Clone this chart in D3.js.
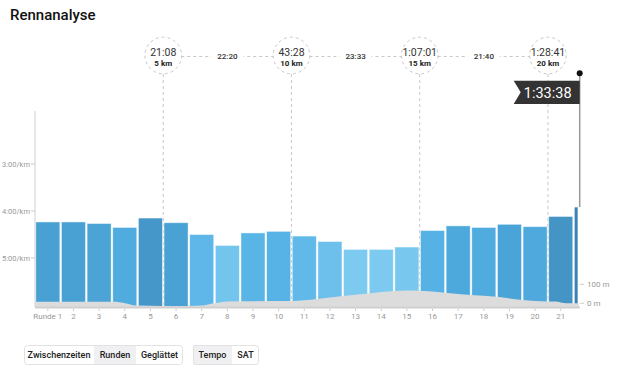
<!DOCTYPE html>
<html>
<head>
<meta charset="utf-8">
<script src="https://cdn.jsdelivr.net/npm/d3@7"></script>
<style>
  body { margin: 0; background: #fff; font-family: Roboto, sans-serif; }
  svg text { font-family: Roboto, sans-serif; }
</style>
</head>
<body>
<div id="chart"></div>
<script>
// lap data (pace in seconds per km)
var lapLabels = ["Runde 1", "2", "3", "4", "5", "6", "7", "8", "9", "10", "11", "12", "13", "14", "15", "16", "17", "18", "19", "20", "21", ""];
var lapDist = [1, 1, 1, 1, 1, 1, 1, 1, 1, 1, 1, 1, 1, 1, 1, 1, 1, 1, 1, 1, 1, 0.2];
var lapPace = [254, 254, 256, 261, 249, 255, 270, 284, 268, 266, 272, 279, 289, 289, 286, 265, 259, 261, 257, 260, 247, 235];

// elevation profile
var elevKm = [0, 1, 2, 3, 3.3, 4, 5, 6, 6.5, 7, 7.5, 8.5, 10, 11, 12, 13, 14, 14.5, 15, 16, 17, 18, 19, 20, 20.3, 20.7, 21.2];
var elevM = [8, 8, 8, 8, 6, -12, -14, -14, -12, 0, 10, 11, 12, 22, 38, 52, 65, 68, 66, 56, 44, 35, 17, 10, 10, 0, 0];

// splits
var splitKm = [5, 10, 15, 20];
var splitTime = ["21:08", "43:28", "1:07:01", "1:28:41"];
var splitLabel = ["5 km", "10 km", "15 km", "20 km"];
var segTime = ["22:20", "23:33", "21:40"];
var finishTime = "1:33:38";

var paceTicks = [180, 240, 300];
var paceTickLabels = ["3:00/km", "4:00/km", "5:00/km"];
var elevTicks = [0, 100];

var width = 626, height = 368;
var svg = d3.select("#chart").append("svg").attr("width", width).attr("height", height);

svg.append("text").attr("x", 10).attr("y", 20)
  .style("font-size", "15px").style("font-weight", "500").style("fill", "#111")
  .text("Rennanalyse");

var totalKm = d3.sum(lapDist);
var x = d3.scaleLinear().domain([0, totalKm]).range([35, 578.7]);
var y = d3.scaleLinear().domain([180, 300]).range([164, 258]);
var yE = d3.scaleLinear().domain([0, 100]).range([303.3, 284.3]);
var bottom = 307;

var color = d3.scaleLinear()
  .domain([235, 250, 258, 266, 290])
  .range(["#3a82b2", "#4699cb", "#4ca6da", "#57b3e6", "#7ecbf0"]);

// laps with start/end
var laps = [];
var acc = 0;
for (var i = 0; i < lapDist.length; i++) {
  laps.push({ label: lapLabels[i], start: acc, end: acc + lapDist[i], pace: lapPace[i] });
  acc += lapDist[i];
}

// left axis line
svg.append("line").attr("x1", 35).attr("x2", 35).attr("y1", 111).attr("y2", bottom)
  .style("stroke", "#d0d0d0").style("stroke-width", 1);

// pace ticks
var pt = svg.append("g").selectAll("g").data(paceTicks).enter().append("g");
pt.append("line").attr("x1", 31).attr("x2", 35)
  .attr("y1", function (d) { return y(d); }).attr("y2", function (d) { return y(d); })
  .style("stroke", "#ccc");
pt.append("text").attr("x", 30).attr("y", function (d) { return y(d); })
  .attr("dy", "0.35em").attr("text-anchor", "end")
  .style("font-size", "7.5px").style("fill", "#999")
  .text(function (d, i) { return paceTickLabels[i]; });

// split vertical dashed lines
svg.append("g").selectAll("line").data(splitKm).enter().append("line")
  .attr("x1", function (d) { return x(d); }).attr("x2", function (d) { return x(d); })
  .attr("y1", 74).attr("y2", bottom)
  .style("stroke", "#c8c8c8").style("stroke-dasharray", "3,3");

// horizontal dashed connectors
svg.append("g").selectAll("line").data(segTime).enter().append("line")
  .attr("x1", function (d, i) { return x(splitKm[i]) + 18; })
  .attr("x2", function (d, i) { return x(splitKm[i + 1]) - 18; })
  .attr("y1", 56.5).attr("y2", 56.5)
  .style("stroke", "#c8c8c8").style("stroke-dasharray", "3,3");

var seg = svg.append("g").selectAll("g").data(segTime).enter().append("g")
  .attr("transform", function (d, i) { return "translate(" + (x(splitKm[i]) + x(splitKm[i + 1])) / 2 + ",56.5)"; });
seg.append("rect").attr("x", -16).attr("y", -6).attr("width", 32).attr("height", 12).style("fill", "#fff");
seg.append("text").attr("text-anchor", "middle").attr("dy", "0.35em")
  .style("font-size", "8px").style("font-weight", "500").style("fill", "#333")
  .text(function (d) { return d; });

// split circles
var sc = svg.append("g").selectAll("g").data(splitKm).enter().append("g")
  .attr("transform", function (d) { return "translate(" + x(d) + ",55.5)"; });
sc.append("circle").attr("r", 18.3).style("fill", "#fff")
  .style("stroke", "#c8c8c8").style("stroke-dasharray", "3,3");
sc.append("text").attr("text-anchor", "middle").attr("y", 0.5)
  .style("font-size", "10.5px").style("fill", "#333")
  .text(function (d, i) { return splitTime[i]; });
sc.append("text").attr("text-anchor", "middle").attr("y", 10.5)
  .style("font-size", "8px").style("font-weight", "700").style("fill", "#222")
  .text(function (d, i) { return splitLabel[i]; });

// bars
svg.append("g").selectAll("rect").data(laps).enter().append("rect")
  .attr("x", function (d) { return x(d.start) + 0.8; })
  .attr("width", function (d) { return x(d.end) - x(d.start) - 1.6; })
  .attr("y", function (d) { return y(d.pace); })
  .attr("height", function (d) { return bottom - y(d.pace); })
  .style("fill", function (d) { return color(d.pace); })
  .style("stroke", "rgba(255,255,255,0.55)").style("stroke-width", 0.8);

// elevation area
var elev = elevKm.map(function (k, i) { return { km: k, m: elevM[i] }; });
var area = d3.area()
  .x(function (d) { return x(d.km); })
  .y0(bottom)
  .y1(function (d) { return yE(d.m); })
  .curve(d3.curveMonotoneX);
svg.append("path").datum(elev).attr("d", area).style("fill", "#dcdcdc");

// bottom axis
svg.append("line").attr("x1", 35).attr("x2", 580).attr("y1", bottom + 0.5).attr("y2", bottom + 0.5)
  .style("stroke", "#cfcfcf").style("stroke-width", 2);

var xt = svg.append("g").selectAll("g").data(laps.filter(function (d) { return d.label !== ""; })).enter().append("g")
  .attr("transform", function (d) { return "translate(" + x((d.start + d.end) / 2) + ",0)"; });
xt.append("line").attr("y1", 308.5).attr("y2", 311).style("stroke", "#ccc");
xt.append("text").attr("y", 319).attr("text-anchor", "middle")
  .style("font-size", "8px").style("fill", "#999")
  .text(function (d) { return d.label; });

// elevation axis
var et = svg.append("g").selectAll("g").data(elevTicks).enter().append("g")
  .attr("transform", function (d) { return "translate(580," + yE(d) + ")"; });
et.append("line").attr("x1", 0).attr("x2", 4).style("stroke", "#ccc");
et.append("text").attr("x", 7).attr("dy", "0.35em")
  .style("font-size", "8px").style("fill", "#999")
  .text(function (d) { return d + " m"; });

// finish flag
var fx = x(totalKm) + 1;
var lastLap = laps[laps.length - 1];
svg.append("line").attr("x1", fx).attr("x2", fx).attr("y1", 73.3).attr("y2", y(lastLap.pace))
  .style("stroke", "#999").style("stroke-width", 1.5);
svg.append("circle").attr("cx", fx).attr("cy", 73.3).attr("r", 3).style("fill", "#111");
svg.append("path")
  .attr("d", "M" + (fx - 66) + ",80.7 L" + fx + ",80.7 L" + fx + ",104 L" + (fx - 66) + ",104 L" + (fx - 59) + ",92.3 Z")
  .style("fill", "#333");
svg.append("text").attr("x", fx - 32).attr("y", 92.3).attr("dy", "0.36em").attr("text-anchor", "middle")
  .style("font-size", "14.5px").style("fill", "#fff")
  .text(finishTime);

// toggle buttons
var groups = [
  { x: 24, items: [["Zwischenzeiten", 70, false], ["Runden", 42, true], ["Geglättet", 47, false]] },
  { x: 193, items: [["Tempo", 39, true], ["SAT", 27, false]] }
];
groups.forEach(function (g) {
  var bx = g.x;
  var total = d3.sum(g.items, function (d) { return d[1]; });
  var bg = svg.append("g");
  g.items.forEach(function (it) {
    if (it[2]) {
      bg.append("rect").attr("x", bx).attr("y", 345).attr("width", it[1]).attr("height", 20).style("fill", "#f0f0f3");
    }
    bg.append("text").attr("x", bx + it[1] / 2).attr("y", 355).attr("dy", "0.35em").attr("text-anchor", "middle")
      .style("font-size", "9px").style("font-weight", "500").style("fill", "#222")
      .text(it[0]);
    bx += it[1];
  });
  bg.append("rect").attr("x", g.x + 0.5).attr("y", 345.5).attr("width", total - 1).attr("height", 19).attr("rx", 3)
    .style("fill", "none").style("stroke", "#e2e2e2");
});
</script>
</body>
</html>
